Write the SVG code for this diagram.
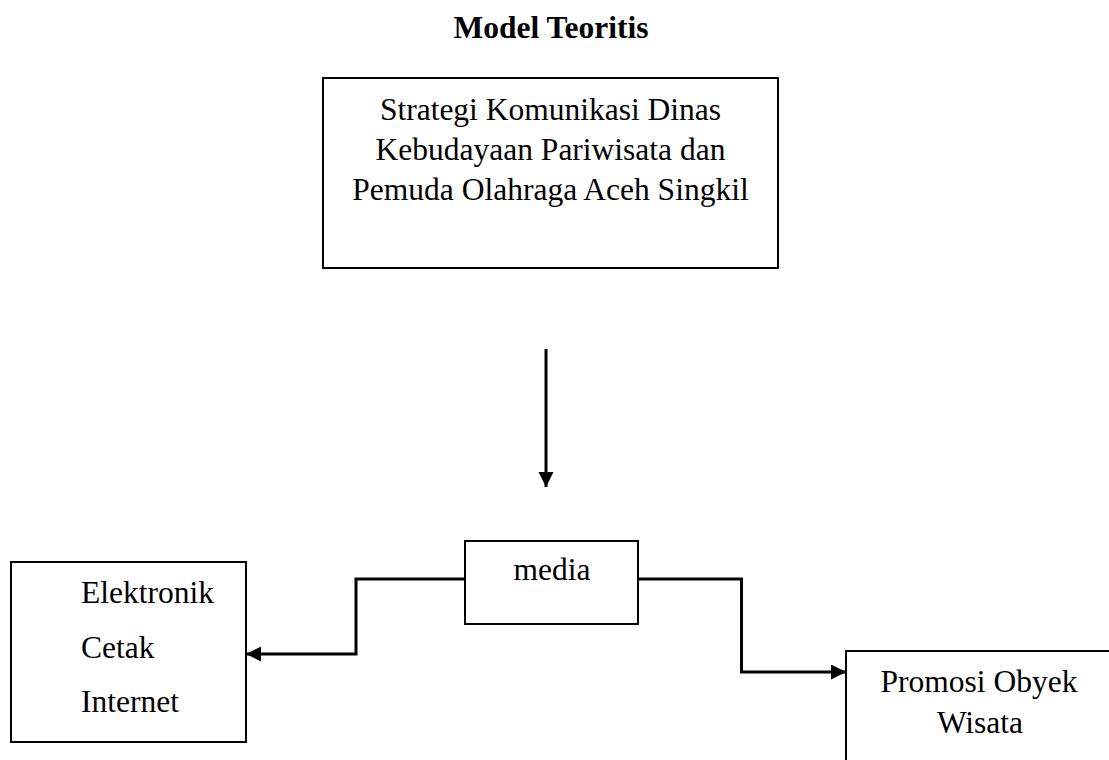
<svg xmlns="http://www.w3.org/2000/svg" width="1109" height="760" viewBox="0 0 1109 760">
  <style>
    .box { fill: #ffffff; stroke: #000000; stroke-width: 2; }
    .t { font-family: "Liberation Serif", "Times New Roman", serif; font-size: 31.5px; fill: #000000; }
    .c { text-anchor: middle; }
    .title { font-weight: bold; }
    .conn { fill: none; stroke: #000000; stroke-width: 3; }
  </style>
  <defs>
    <marker id="arrow" markerUnits="userSpaceOnUse" markerWidth="16" markerHeight="16" refX="15" refY="7.5" orient="auto">
      <path d="M0,0 L15,7.5 L0,15 Z" fill="#000000"/>
    </marker>
  </defs>
  <rect width="1109" height="760" fill="#ffffff"/>

  <g id="title">
    <text class="t c title" x="551" y="37.5">Model Teoritis</text>
  </g>

  <g id="node-strategi">
    <rect class="box" x="323" y="78" width="455" height="190"/>
    <text class="t c" x="550.5" y="120">Strategi Komunikasi Dinas</text>
    <text class="t c" x="550.5" y="160">Kebudayaan Pariwisata dan</text>
    <text class="t c" x="550.5" y="200">Pemuda Olahraga Aceh Singkil</text>
  </g>

  <g id="node-media">
    <rect class="box" x="465" y="541" width="173" height="83"/>
    <text class="t c" x="552" y="580">media</text>
  </g>

  <g id="node-jenis">
    <rect class="box" x="11" y="562" width="235" height="180"/>
    <text class="t" x="81" y="602.5">Elektronik</text>
    <text class="t" x="81" y="657.5">Cetak</text>
    <text class="t" x="81" y="712">Internet</text>
  </g>

  <g id="node-promosi">
    <rect class="box" x="846" y="651" width="300" height="200"/>
    <text class="t c" x="979" y="692">Promosi Obyek</text>
    <text class="t c" x="980" y="733">Wisata</text>
  </g>

  <g id="connectors">
    <path class="conn" d="M546,349 L546,487" marker-end="url(#arrow)"/>
    <path class="conn" d="M465,579 L356,579 L356,654 L246,654" marker-end="url(#arrow)"/>
    <path class="conn" d="M638,579 L741.5,579 L741.5,672 L846,672" marker-end="url(#arrow)"/>
  </g>
</svg>
